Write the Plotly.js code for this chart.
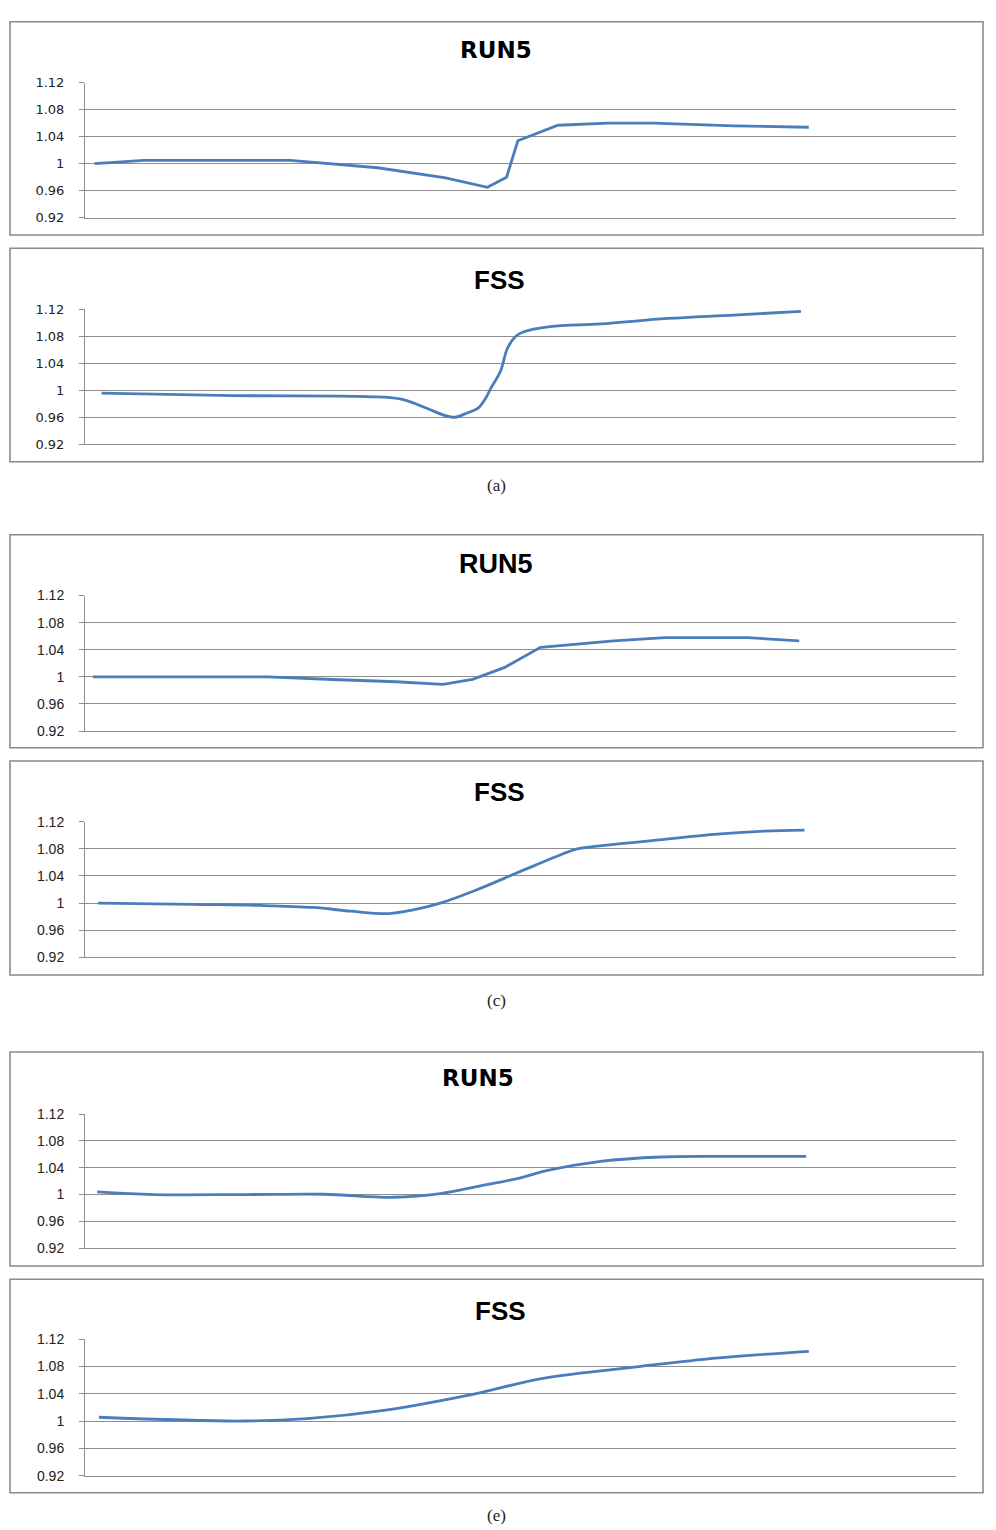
<!DOCTYPE html>
<html>
<head>
<meta charset="utf-8">
<script src="https://cdn.plot.ly/plotly-3.0.1.min.js"></script>
<style>
  html, body { margin: 0; padding: 0; background: #ffffff; }
  #chart { width: 996px; height: 1530px; }
</style>
</head>
<body>
<div id="chart"></div>
<script>
// ---------------- DATA ----------------
const yTickVals = [0.92, 0.96, 1.00, 1.04, 1.08, 1.12];
const yTickText = ["0.92", "0.96", "1", "1.04", "1.08", "1.12"];

const panelTitles = ["RUN5", "FSS", "RUN5", "FSS", "RUN5", "FSS"];
const captions = ["(a)", "(c)", "(e)"];

// (a) RUN5
const xA_run5 = [1.1, 6.7, 23.6, 33.6, 41.4, 46.2, 48.4, 49.7, 54.3, 60.0, 65.3, 74.5, 83.1];
const yA_run5 = [1.000, 1.005, 1.005, 0.994, 0.979, 0.965, 0.980, 1.034, 1.057, 1.060, 1.060, 1.056, 1.054];
// (a) FSS
const xA_fss = [1.9, 17.0, 32.4, 36.2, 39.3, 41.1, 42.5, 43.8, 45.1, 46.0, 46.6, 47.7, 48.5, 49.4, 50.3, 53.4, 59.2, 66.9, 74.5, 82.2];
const yA_fss = [0.9955, 0.992, 0.9906, 0.987, 0.973, 0.9636, 0.960, 0.966, 0.973, 0.988, 1.003, 1.028, 1.062, 1.079, 1.086, 1.094, 1.098, 1.106, 1.111, 1.1166];
// (c) RUN5
const xC_run5 = [0.9, 21.0, 28.4, 35.7, 41.1, 44.5, 48.2, 52.3, 60.7, 66.6, 76.1, 82.0];
const yC_run5 = [1.000, 1.000, 0.996, 0.9927, 0.9888, 0.9962, 1.0139, 1.0435, 1.053, 1.0578, 1.0578, 1.053];
// (c) FSS
const xC_fss = [1.5, 12.4, 20.1, 26.2, 30.5, 34.9, 37.7, 40.8, 45.0, 50.0, 54.2, 56.5, 58.8, 64.6, 72.2, 78.0, 82.6];
const yC_fss = [1.000, 0.998, 0.9965, 0.9935, 0.988, 0.9845, 0.990, 1.000, 1.0197, 1.0467, 1.069, 1.080, 1.084, 1.0915, 1.1013, 1.106, 1.1077];
// (e) RUN5
const xE_run5 = [1.4, 7.9, 18.2, 27.4, 35.4, 40.8, 45.4, 50.0, 53.1, 59.2, 66.1, 72.2, 82.8];
const yE_run5 = [1.004, 1.000, 1.000, 1.0005, 0.996, 1.0015, 1.013, 1.025, 1.036, 1.0495, 1.056, 1.057, 1.057];
// (e) FSS
const xE_fss = [1.6, 18.1, 25.5, 34.3, 44.5, 52.6, 63.6, 72.4, 83.1];
const yE_fss = [1.0055, 1.000, 1.0035, 1.0155, 1.039, 1.0625, 1.0796, 1.092, 1.102];

// ---------------- LAYOUT HELPERS ----------------
const W = 996, H = 1530;
const px = v => v / W;
const py = v => 1 - v / H;

const LINE_COLOR = "#4a7ebb";
const GRID = "#8e8e8e";

// plot-area pixel extents (top = 1.12, bottom = 0.92)
const plotBands = [[82.7, 217.7], [309, 444.3], [595.5, 731], [821.7, 957.3], [1114, 1248.3], [1339, 1475.7]];
const boxes = [[21.7, 235], [248.3, 461.7], [534.7, 747.7], [761, 975], [1052, 1266], [1279.3, 1492.7]];
const titlePos = [[496, 50], [499.5, 280], [496, 563.5], [499.5, 792], [478, 1078], [500, 1311]];
const titleFonts = [
  {family: "DejaVu Sans, Verdana, sans-serif", size: 23, weight: 700},
  {family: "Liberation Sans, Arial, sans-serif", size: 26, weight: 700},
  {family: "Liberation Sans, Arial, sans-serif", size: 27, weight: 700},
  {family: "Liberation Sans, Arial, sans-serif", size: 26, weight: 700},
  {family: "DejaVu Sans, Verdana, sans-serif", size: 23, weight: 700},
  {family: "Liberation Sans, Arial, sans-serif", size: 26, weight: 700}
];
const tickFonts = [
  {family: "DejaVu Sans, Verdana, sans-serif", size: 13, color: "#222"},
  {family: "DejaVu Sans, Verdana, sans-serif", size: 13, color: "#222"},
  {family: "Liberation Sans, Arial, sans-serif", size: 14, color: "#222"},
  {family: "Liberation Sans, Arial, sans-serif", size: 14, color: "#222"},
  {family: "Liberation Sans, Arial, sans-serif", size: 14, color: "#222"},
  {family: "Liberation Sans, Arial, sans-serif", size: 14, color: "#222"}
];
const captionPos = [[496, 485], [496, 1000], [496, 1515]];

const series = [
  [xA_run5, yA_run5, "linear"],
  [xA_fss, yA_fss, "spline"],
  [xC_run5, yC_run5, "linear"],
  [xC_fss, yC_fss, "spline"],
  [xE_run5, yE_run5, "spline"],
  [xE_fss, yE_fss, "spline"]
];

const data = [];
const layout = {
  width: W, height: H,
  margin: {l: 0, r: 0, t: 0, b: 0},
  paper_bgcolor: "#ffffff",
  plot_bgcolor: "rgba(0,0,0,0)",
  showlegend: false,
  shapes: [],
  annotations: []
};

series.forEach((s, i) => {
  const n = i + 1;
  const xa = n === 1 ? "x" : "x" + n;
  const ya = n === 1 ? "y" : "y" + n;
  data.push({
    type: "scatter", mode: "lines",
    x: s[0], y: s[1],
    xaxis: xa, yaxis: ya,
    line: {color: LINE_COLOR, width: 2.8, shape: s[2], smoothing: 1},
    hoverinfo: "skip"
  });
  const xKey = n === 1 ? "xaxis" : "xaxis" + n;
  const yKey = n === 1 ? "yaxis" : "yaxis" + n;
  layout[xKey] = {
    domain: [px(85), px(956)],
    range: [0, 100],
    anchor: ya,
    showgrid: false, zeroline: false,
    showline: true, linecolor: GRID, linewidth: 1,
    ticks: "", showticklabels: false,
    fixedrange: true
  };
  layout[yKey] = {
    domain: [py(plotBands[i][1]), py(plotBands[i][0])],
    range: [0.92, 1.12],
    anchor: xa,
    tickmode: "array", tickvals: yTickVals, ticktext: yTickText,
    showgrid: true, gridcolor: GRID, gridwidth: 1,
    zeroline: false,
    showline: true, linecolor: GRID, linewidth: 1,
    ticks: "outside", ticklen: 5, tickcolor: GRID, tickwidth: 1,
    ticklabelstandoff: 12,
    tickfont: tickFonts[i],
    fixedrange: true
  };
  // outer chart border
  layout.shapes.push({
    type: "rect", xref: "paper", yref: "paper",
    x0: px(10), x1: px(983), y0: py(boxes[i][1]), y1: py(boxes[i][0]),
    line: {color: "#8a8a8a", width: 1.6}, fillcolor: "rgba(0,0,0,0)", layer: "above"
  });
  // chart title
  layout.annotations.push({
    xref: "paper", yref: "paper",
    x: px(titlePos[i][0]), y: py(titlePos[i][1]),
    xanchor: "center", yanchor: "middle",
    text: panelTitles[i], showarrow: false,
    font: Object.assign({color: "#000"}, titleFonts[i])
  });
});

captions.forEach((c, j) => {
  layout.annotations.push({
    xref: "paper", yref: "paper",
    x: px(captionPos[j][0]), y: py(captionPos[j][1]),
    xanchor: "center", yanchor: "middle",
    text: c, showarrow: false,
    font: {family: "Liberation Serif, DejaVu Serif, serif", size: 17, color: "#222"}
  });
});

Plotly.newPlot("chart", data, layout, {displayModeBar: false, staticPlot: true});
</script>
</body>
</html>
